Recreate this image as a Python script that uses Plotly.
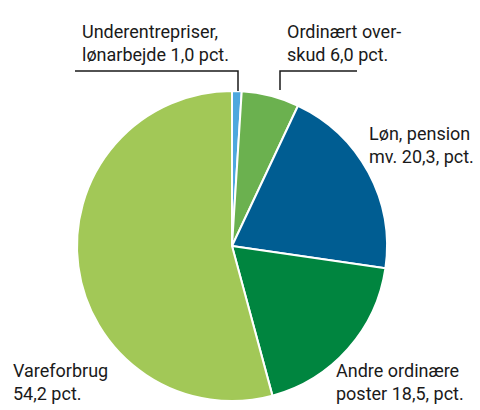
import plotly.graph_objects as go

categories = ["Underentrepriser, lønarbejde", "Ordinært overskud", "Løn, pension mv.",
              "Andre ordinære poster", "Vareforbrug"]
values = [1.0, 6.0, 20.3, 18.5, 54.2]
colors = ["#4DA8DE", "#6BB14F", "#005D92", "#00853F", "#A2C857"]
label_texts = ["Underentrepriser,<br>lønarbejde 1,0 pct.",
               "Ordinært over-<br>skud 6,0 pct.",
               "Løn, pension<br>mv. 20,3, pct.",
               "Andre ordinære<br>poster 18,5, pct.",
               "Vareforbrug<br>54,2 pct."]
label_px = [(80, 43), (285, 43), (367, 145), (334, 382), (11, 382)]

W, H = 480, 410
cx, cy, r = 232, 246, 155

fig = go.Figure(go.Pie(
    labels=categories, values=values, sort=False, direction="clockwise", rotation=0,
    marker=dict(colors=colors, line=dict(color="white", width=2)),
    textinfo="none", hoverinfo="label+percent", showlegend=False,
    domain=dict(x=[(cx - r) / W, (cx + r) / W], y=[1 - (cy + r) / H, 1 - (cy - r) / H]),
))

font = dict(family="Roboto, sans-serif", size=18, color="#1a1a1a")
for t, (x, y) in zip(label_texts, label_px):
    fig.add_annotation(text=t, x=x / W, y=1 - y / H, xref="paper", yref="paper",
                       xanchor="left", yanchor="middle", align="left", showarrow=False, font=font)

def px(x, y):
    return x / W, 1 - y / H

leaders = [[(75, 71), (238, 71), (238, 91)], [(357, 71), (280, 71), (280, 90)]]
for pts in leaders:
    path = "M " + " L ".join(f"{px(*p)[0]},{px(*p)[1]}" for p in pts)
    fig.add_shape(type="path", path=path, xref="paper", yref="paper",
                  line=dict(color="#1a1a1a", width=1.5))

fig.update_layout(width=W, height=H, margin=dict(l=0, r=0, t=0, b=0),
                  paper_bgcolor="white", plot_bgcolor="white")
fig.write_html("out.html", config={"displayModeBar": False},
               post_script="document.body.style.margin='0';document.body.style.overflow='hidden';")
